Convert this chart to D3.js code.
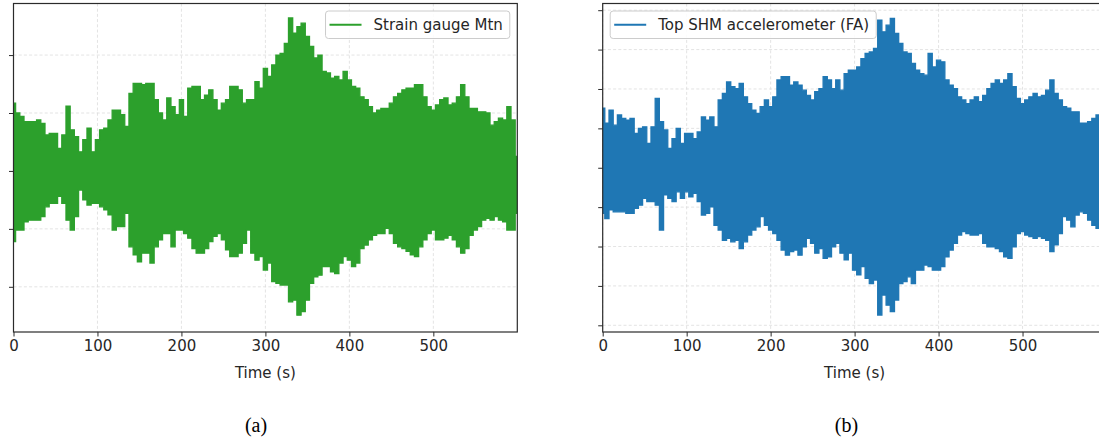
<!DOCTYPE html>
<html>
<head>
<meta charset="utf-8">
<script src="https://cdn.jsdelivr.net/npm/d3@7"></script>
<style>
  html, body { margin: 0; padding: 0; background: #ffffff; overflow: hidden; }
  svg { display: block; }
  text { font-family: "DejaVu Sans", sans-serif; }
</style>
</head>
<body>
<svg id="chart" width="1099" height="442"></svg>
<script>
// ---------------- data ----------------
const timeS = [0,5,10,15,20,25,30,35,40,45,50,55,60,65,70,75,80,85,90,95,
  100,105,110,115,120,125,130,135,140,145,150,155,160,165,170,175,180,185,190,195,
  200,205,210,215,220,225,230,235,240,245,250,255,260,265,270,275,280,285,290,295,
  300,305,310,315,320,325,330,335,340,345,350,355,360,365,370,375,380,385,390,395,
  400,405,410,415,420,425,430,435,440,445,450,455,460,465,470,475,480,485,490,495,
  500,505,510,515,520,525,530,535,540,545,550,555,560,565,570,575,580,585,590,595,600];

// Strain gauge Mtn: upper / lower envelope of the dense signal
const strainUpper = [1.17,1.00,0.94,0.85,0.85,0.85,0.88,0.82,0.62,0.65,
  0.65,0.39,0.62,1.12,0.71,0.59,0.33,0.54,0.74,0.33,
  0.54,0.71,0.74,0.88,1.05,1.05,0.97,0.77,1.34,1.51,
  1.51,1.49,1.51,1.51,1.23,1.00,0.88,1.26,1.11,0.97,
  1.23,0.94,1.43,1.46,1.46,1.23,1.31,1.40,1.23,1.05,
  1.17,1.23,1.46,1.46,1.40,1.17,1.23,1.23,1.54,1.43,
  1.77,1.63,1.83,2.00,2.03,2.20,2.64,2.38,2.49,2.55,
  2.32,2.15,1.95,2.00,1.72,1.69,1.60,1.63,1.57,1.72,
  1.57,1.46,1.43,1.28,1.23,1.11,1.00,1.05,1.08,1.08,
  1.17,1.28,1.34,1.40,1.43,1.43,1.49,1.49,1.28,1.11,
  1.05,1.14,1.23,1.26,1.14,1.17,1.28,1.49,1.28,1.08,
  1.08,1.02,1.02,1.00,0.79,0.85,0.91,0.88,1.11,0.88,
  0.25];
const strainLower = [-1.22,-1.02,-1.02,-0.88,-0.85,-0.85,-0.85,-0.79,-0.62,-0.56,
  -0.56,-0.44,-0.56,-0.85,-1.02,-0.79,-0.33,-0.50,-0.59,-0.56,
  -0.56,-0.62,-0.67,-0.76,-1.02,-0.96,-0.96,-0.73,-1.31,-1.45,
  -1.57,-1.42,-1.42,-1.59,-1.31,-1.19,-1.08,-1.08,-1.31,-1.02,
  -1.02,-1.08,-1.16,-1.34,-1.42,-1.42,-1.34,-1.22,-1.13,-1.08,
  -1.19,-1.36,-1.48,-1.48,-1.42,-1.25,-1.02,-1.42,-1.54,-1.48,
  -1.71,-1.59,-1.91,-1.94,-1.97,-1.97,-2.26,-2.23,-2.49,-2.43,
  -2.23,-1.94,-1.83,-1.80,-1.65,-1.65,-1.74,-1.77,-1.59,-1.48,
  -1.54,-1.65,-1.59,-1.34,-1.28,-1.19,-1.11,-1.08,-1.08,-0.99,
  -1.08,-1.25,-1.31,-1.34,-1.39,-1.45,-1.48,-1.31,-1.19,-1.08,
  -1.02,-1.19,-1.19,-1.16,-1.11,-1.19,-1.31,-1.42,-1.34,-1.11,
  -1.02,-0.96,-0.85,-0.82,-0.85,-0.79,-0.85,-0.88,-1.02,-1.02,
  -0.73];

// Top SHM accelerometer (FA): upper / lower envelope
const accelUpper = [1.51,1.13,1.46,1.08,1.34,1.25,1.21,1.25,0.87,1.00,
  1.04,0.62,1.04,1.76,1.17,0.96,0.49,0.74,1.00,0.62,
  0.87,0.87,0.74,0.91,1.29,1.21,1.29,1.04,1.72,1.89,
  2.18,2.06,2.01,2.14,1.80,1.63,1.46,1.38,1.55,1.72,
  1.55,1.80,2.23,2.31,2.31,2.10,2.18,2.10,1.97,1.84,
  1.72,1.93,2.01,2.31,2.23,2.01,2.23,1.97,2.39,2.48,
  2.48,2.56,2.77,2.90,2.94,3.03,3.75,3.45,3.62,3.79,
  3.41,3.16,2.94,2.90,2.65,2.48,2.39,2.35,2.90,2.56,
  2.73,2.69,2.23,2.10,2.01,1.80,1.72,1.63,1.72,1.80,
  1.68,1.84,2.01,2.14,2.23,2.14,2.23,2.39,2.06,1.76,
  1.63,1.72,1.80,1.89,1.80,1.84,1.97,2.23,1.89,1.72,
  1.55,1.51,1.42,1.42,1.13,1.13,1.17,1.25,1.34,1.34,
  1.34];
const accelLower = [-1.16,-1.29,-1.07,-1.12,-1.12,-1.12,-1.16,-1.16,-1.03,-0.95,
  -0.78,-0.86,-0.86,-0.95,-1.58,-0.69,-0.78,-0.86,-0.61,-0.78,
  -0.61,-0.74,-0.65,-0.86,-1.20,-1.16,-0.99,-1.46,-1.58,-1.84,
  -1.79,-1.88,-1.84,-2.05,-1.88,-1.71,-1.58,-1.50,-1.24,-1.46,
  -1.58,-1.67,-1.84,-2.09,-2.22,-2.13,-2.09,-2.22,-2.01,-1.79,
  -1.92,-2.17,-2.05,-2.30,-2.26,-2.01,-1.92,-2.17,-2.34,-2.17,
  -2.60,-2.72,-2.51,-2.81,-2.94,-2.85,-3.74,-3.23,-3.49,-3.65,
  -3.36,-2.94,-2.89,-2.77,-2.94,-2.60,-2.60,-2.47,-2.51,-2.60,
  -2.60,-2.51,-2.26,-2.09,-1.92,-1.71,-1.62,-1.67,-1.71,-1.71,
  -1.67,-1.92,-2.01,-2.01,-2.05,-2.13,-2.26,-2.30,-2.01,-1.67,
  -1.62,-1.71,-1.75,-1.79,-1.75,-1.79,-1.84,-2.13,-1.96,-1.67,
  -1.24,-1.33,-1.50,-1.20,-1.12,-1.16,-1.33,-1.46,-1.54,-1.54,
  -1.54];

const xTicks = [0, 100, 200, 300, 400, 500];
const strainTicks = [-2, -1, 0, 1, 2];
const accelTicks = [-4, -3, -2, -1, 0, 1, 2, 3, 4];
const xLabel = "Time (s)";
const panels = [
  { name: "Strain gauge Mtn", upper: strainUpper, lower: strainLower,
    yTicks: strainTicks, yDomain: [-2.78, 2.89], color: "#2ca02c",
    left: 13.5, right: 517.3, legendSide: "right", caption: "(a)", captionX: 256 },
  { name: "Top SHM accelerometer (FA)", upper: accelUpper, lower: accelLower,
    yTicks: accelTicks, yDomain: [-4.17, 4.17], color: "#1f77b4",
    left: 602.7, right: 1106.5, legendSide: "left", caption: "(b)", captionX: 846.5 }
];

// ---------------- drawing ----------------
const svg = d3.select("#chart");
const plotTop = 3.5, plotBottom = 332;
const axisColor = "#2b2b2b";
const textColor = "#262626";

panels.forEach((p, pi) => {
  const x = d3.scaleLinear().domain([0, 600]).range([p.left, p.right]);
  const y = d3.scaleLinear().domain(p.yDomain).range([plotBottom, plotTop]);
  const g = svg.append("g");

  const clipId = "clip" + pi;
  svg.append("defs").append("clipPath").attr("id", clipId)
    .append("rect").attr("x", p.left).attr("y", plotTop)
    .attr("width", p.right - p.left).attr("height", plotBottom - plotTop);

  // grid
  const grid = g.append("g");
  grid.selectAll("line.gx").data(xTicks).join("line")
    .attr("x1", d => x(d)).attr("x2", d => x(d))
    .attr("y1", plotTop).attr("y2", plotBottom)
    .attr("stroke", "#dcdcdc").attr("stroke-width", 0.8)
    .attr("stroke-dasharray", "3,2.2");
  grid.selectAll("line.gy").data(p.yTicks).join("line")
    .attr("x1", p.left).attr("x2", p.right)
    .attr("y1", d => y(d)).attr("y2", d => y(d))
    .attr("stroke", "#dcdcdc").attr("stroke-width", 0.8)
    .attr("stroke-dasharray", "3,2.2");

  // signal
  const rows = timeS.map((t, i) => ({ t: t, hi: p.upper[i], lo: p.lower[i] }));
  const area = d3.area()
    .x(d => x(d.t)).y0(d => y(d.lo)).y1(d => y(d.hi))
    .curve(d3.curveStep);
  g.append("path").datum(rows)
    .attr("clip-path", "url(#" + clipId + ")")
    .attr("d", area)
    .attr("fill", p.color)
    .attr("stroke", p.color).attr("stroke-width", 1.3)
    .attr("stroke-linejoin", "miter");

  // axes
  const xAxis = d3.axisBottom(x).tickValues(xTicks).tickSize(4.5).tickPadding(4)
    .tickFormat(d3.format("d"));
  const gx = g.append("g").attr("transform", `translate(0,${plotBottom})`).call(xAxis);
  gx.select(".domain").remove();
  gx.selectAll("line").attr("stroke", axisColor).attr("stroke-width", 1);
  gx.selectAll("text").attr("fill", textColor)
    .attr("font-size", 15).attr("font-family", "DejaVu Sans");

  const yAxis = d3.axisLeft(y).tickValues(p.yTicks).tickSize(4.5).tickFormat("");
  const gy = g.append("g").attr("transform", `translate(${p.left},0)`).call(yAxis);
  gy.select(".domain").remove();
  gy.selectAll("line").attr("stroke", axisColor).attr("stroke-width", 1);

  // frame
  g.append("rect")
    .attr("x", p.left).attr("y", plotTop)
    .attr("width", p.right - p.left).attr("height", plotBottom - plotTop)
    .attr("fill", "none").attr("stroke", axisColor).attr("stroke-width", 1.2);

  // x label
  g.append("text")
    .attr("x", (p.left + p.right) / 2).attr("y", 377.5)
    .attr("text-anchor", "middle").attr("fill", textColor)
    .attr("font-size", 15).text(xLabel);

  // legend
  const lg = g.append("g");
  const box = lg.append("rect");
  const label = lg.append("text").attr("font-size", 15).attr("fill", textColor)
    .attr("dominant-baseline", "central").text(p.name);
  const tw = label.node().getComputedTextLength();
  const pad = 7.5, handleLen = 32, gap = 12;
  const boxW = 4 + handleLen + gap + tw + 7;
  const boxH = 27.5;
  const bx = p.legendSide === "right" ? p.right - pad - boxW : p.left + pad;
  const by = plotTop + pad;
  box.attr("x", bx).attr("y", by).attr("width", boxW).attr("height", boxH)
    .attr("rx", 3).attr("fill", "#ffffff").attr("fill-opacity", 0.85)
    .attr("stroke", "#cccccc").attr("stroke-width", 1);
  lg.append("line")
    .attr("x1", bx + 4).attr("x2", bx + 4 + handleLen)
    .attr("y1", by + boxH / 2).attr("y2", by + boxH / 2)
    .attr("stroke", p.color).attr("stroke-width", 2);
  label.attr("x", bx + 4 + handleLen + gap).attr("y", by + boxH / 2 + 0.5);

  // caption
  svg.append("text")
    .attr("x", p.captionX).attr("y", 432)
    .attr("text-anchor", "middle").attr("fill", "#000")
    .style("font-family", "'Liberation Serif', 'Times New Roman', serif")
    .attr("font-size", 20).text(p.caption);
});
</script>
</body>
</html>
